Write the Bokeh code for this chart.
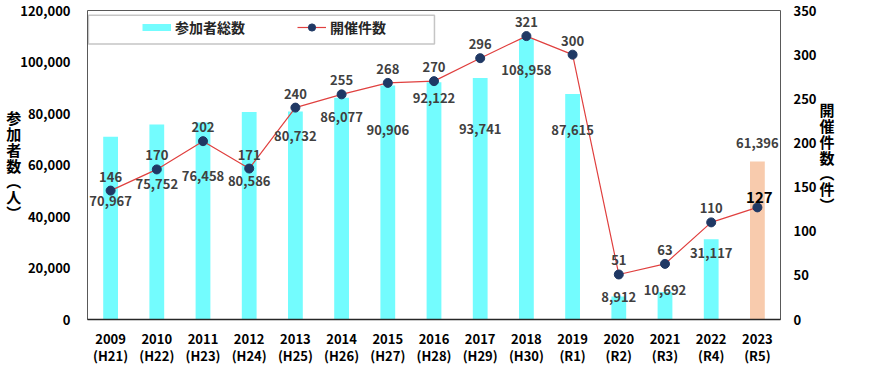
from bokeh.plotting import figure
from bokeh.models import (ColumnDataSource, Range1d, LinearAxis, FactorRange, NumeralTickFormatter,
                          SingleIntervalTicker, BoxAnnotation, Legend, LegendItem)
from bokeh.core.properties import value
from bokeh.embed import file_html
from bokeh.resources import INLINE

# ---- data ----
years = ["2009", "2010", "2011", "2012", "2013", "2014", "2015", "2016",
         "2017", "2018", "2019", "2020", "2021", "2022", "2023"]
eras = ["H21", "H22", "H23", "H24", "H25", "H26", "H27", "H28",
        "H29", "H30", "R1", "R2", "R3", "R4", "R5"]
participants = [70967, 75752, 76458, 80586, 80732, 86077, 90906, 92122,
                93741, 108958, 87615, 8912, 10692, 31117, 61396]
events = [146, 170, 202, 171, 240, 255, 268, 270, 296, 321, 300, 51, 63, 110, 127]
# vertical placement of the participant labels (left-axis units)
bar_label_y = [45900, 52700, 55900, 53600, 71100, 78600, 73400, 85900,
               74100, 97000, 73400, 8900, 11300, 25900, 68600]

FONT = "Noto Sans CJK JP"
CYAN = "#73FCFE"
PEACH = "#F8CBAD"
LINE_RED = "#E0403F"
NAVY = "#1F3864"
GRAY_TXT = "#404040"

factors = [f"{y}\n({e})" for y, e in zip(years, eras)]
bar_colors = [CYAN] * (len(years) - 1) + [PEACH]
n_last = len(years) - 1

src = ColumnDataSource(dict(
    x=factors, participants=participants, events=events, color=bar_colors,
    p_text=[f"{v:,}" for v in participants], label_y=bar_label_y))
src_ev = ColumnDataSource(dict(x=factors[:n_last], events=events[:n_last],
                               e_text=[str(v) for v in events[:n_last]]))
src_last = ColumnDataSource(dict(x=factors[n_last:], events=events[n_last:],
                                 e_text=[str(v) for v in events[n_last:]]))

p = figure(width=873, height=387,
           x_range=FactorRange(*factors, range_padding=0),
           y_range=Range1d(0, 120000),
           output_backend="svg", toolbar_location=None,
           min_border_left=87, min_border_right=93,
           min_border_top=10, min_border_bottom=68)
p.extra_y_ranges = {"count": Range1d(0, 350)}
p.background_fill_color = "white"
p.border_fill_color = "white"
p.outline_line_color = "#595959"
p.outline_line_width = 1
p.xgrid.grid_line_color = None
p.ygrid.grid_line_color = None

bars = p.vbar(x="x", top="participants", width=0.32, fill_color="color",
              line_color=None, source=src)
line_r = p.line(x="x", y="events", y_range_name="count", line_color=LINE_RED,
                line_width=1.2, source=src)
scat_r = p.scatter(x="x", y="events", y_range_name="count", size=9,
                   fill_color=NAVY, line_color=NAVY, source=src)

# participant labels
p.text(x="x", y="label_y", text="p_text", source=src, text_align="center",
       text_baseline="middle", text_font=value(FONT), text_font_style="bold",
       text_font_size="13px", text_color=GRAY_TXT)
# event labels
p.text(x="x", y="events", text="e_text", source=src_ev, y_range_name="count",
       y_offset=-14, text_align="center", text_baseline="middle",
       text_font=value(FONT), text_font_style="bold", text_font_size="13px",
       text_color=GRAY_TXT)
p.text(x="x", y="events", text="e_text", source=src_last, y_range_name="count",
       y_offset=-10, x_offset=2, text_align="center", text_baseline="middle",
       text_font=value(FONT), text_font_style="bold", text_font_size="15px",
       text_color="#000000")

# axes
p.xaxis.major_label_text_font = FONT
p.xaxis.major_label_text_font_style = "bold"
p.xaxis.major_label_text_font_size = "13px"
p.xaxis.major_label_text_color = "#000000"
p.xaxis.major_label_text_line_height = 0.9
p.xaxis.major_label_standoff = 9
p.xaxis.major_tick_line_color = None
p.xaxis.major_tick_out = 0
p.xaxis.major_tick_in = 0
p.xaxis.axis_line_color = "#262626"
p.xaxis.axis_line_width = 1.5

p.yaxis.ticker = SingleIntervalTicker(interval=20000)
p.yaxis.formatter = NumeralTickFormatter(format="0,0")
p.yaxis.major_label_text_font = FONT
p.yaxis.major_label_text_font_style = "bold"
p.yaxis.major_label_text_font_size = "13px"
p.yaxis.major_label_text_color = "#000000"
p.yaxis.major_label_standoff = 17
p.yaxis.major_tick_line_color = None
p.yaxis.major_tick_out = 0
p.yaxis.major_tick_in = 0
p.yaxis.minor_tick_line_color = None
p.yaxis.minor_tick_out = 0
p.yaxis.axis_line_color = None
p.yaxis.axis_label = "参\n加\n者\n数\n︵\n人\n︶"
p.yaxis.axis_label_orientation = "horizontal"
p.yaxis.axis_label_standoff = -4
p.yaxis.axis_label_text_font = FONT
p.yaxis.axis_label_text_font_style = "bold"
p.yaxis.axis_label_text_font_size = "15px"
p.yaxis.axis_label_text_line_height = 0.75
p.yaxis.axis_label_text_color = "#000000"

ax_r = LinearAxis(y_range_name="count", ticker=SingleIntervalTicker(interval=50))
ax_r.major_label_text_font = FONT
ax_r.major_label_text_font_style = "bold"
ax_r.major_label_text_font_size = "13px"
ax_r.major_label_text_color = "#000000"
ax_r.major_label_standoff = 13
ax_r.major_tick_line_color = None
ax_r.major_tick_out = 0
ax_r.major_tick_in = 0
ax_r.minor_tick_line_color = None
ax_r.minor_tick_out = 0
ax_r.axis_line_color = None
ax_r.axis_label = "開\n催\n件\n数\n︵\n件\n︶\n　"
ax_r.axis_label_orientation = "horizontal"
ax_r.axis_label_standoff = 0
ax_r.axis_label_text_font = FONT
ax_r.axis_label_text_font_style = "bold"
ax_r.axis_label_text_font_size = "15px"
ax_r.axis_label_text_line_height = 0.75
ax_r.axis_label_text_color = "#000000"
p.add_layout(ax_r, "right")

# legend box + legend
p.add_layout(BoxAnnotation(left=0.02, right=7.51, top=118170, bottom=107030,
                           fill_color="white", fill_alpha=1,
                           line_color="#404040", line_width=1.5))
bar_dummy = p.line(x=[factors[0]], y=[0], line_color=CYAN, line_width=7)
legend = Legend(items=[LegendItem(label="参加者総数", renderers=[bar_dummy]),
                       LegendItem(label="開催件数", renderers=[line_r, scat_r])],
                orientation="horizontal", location=(55, 282),
                glyph_width=29, glyph_height=18, label_standoff=4, spacing=52,
                padding=0, margin=0, border_line_alpha=0, background_fill_alpha=0,
                label_text_font=FONT, label_text_font_style="bold",
                label_text_font_size="14px", label_text_color="#262626")
p.add_layout(legend)

open("out.html", "w").write(file_html(p, INLINE))
